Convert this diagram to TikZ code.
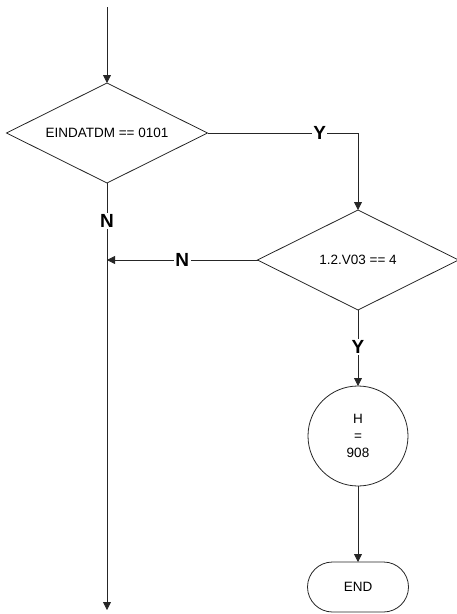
\documentclass[tikz,border=0pt]{standalone}
\usepackage{fontspec}
\setmainfont{Liberation Sans}
\usetikzlibrary{shapes.geometric,shapes.misc,arrows.meta}
\begin{document}
\begin{tikzpicture}[x=1pt,y=-1pt, line width=0.8pt, draw=black!85,
  txt/.style={font=\fontsize{13.5}{17}\selectfont, text=black},
  dec/.style={diamond, aspect=2, draw, minimum width=201pt, minimum height=100pt, inner sep=0pt, outer sep=0pt, txt},
  proc/.style={circle, draw, minimum size=100pt, inner sep=0pt, outer sep=0pt, align=center, txt},
  term/.style={rounded rectangle, draw, minimum width=101pt, minimum height=50pt, inner sep=0pt, outer sep=0pt, txt},
  lbl/.style={fill=white, font=\bfseries\fontsize{19}{22}\selectfont, inner sep=1.5pt, text=black},
  arr/.style={-{Triangle[length=8pt,width=8pt]}}]
\useasboundingbox (0,0) rectangle (456,614);
\coordinate (start) at (107,7);
\node[dec] (d1) at (107,133) {EINDATDM == 0101};
\node[dec] (d2) at (358,260) {1.2.V03 == 4};
\node[proc] (h) at (358,436) {H\\=\\908};
\node[term] (end) at (358,587) {END};
\coordinate (bot) at (107,610);
\coordinate (j) at (107,260);
\coordinate (c1) at (d1.east -| d2.north);
\draw[arr] (start) -- (d1.north);
\draw[arr] (d1.east) -- node[lbl, pos=0.745] (ly1) {Y} (c1) -- (d2.north);
\draw[arr] (d1.south) -- node[lbl, pos=0.089] (ln1) {N} (bot);
\draw[arr] (d2.west) -- node[lbl, pos=0.5] (ln2) {N} (j);
\draw[arr] (d2.south) -- node[lbl, pos=0.49] (ly2) {Y} (h.north);
\draw[arr] (h.south) -- (end.north);
\end{tikzpicture}
\end{document}
